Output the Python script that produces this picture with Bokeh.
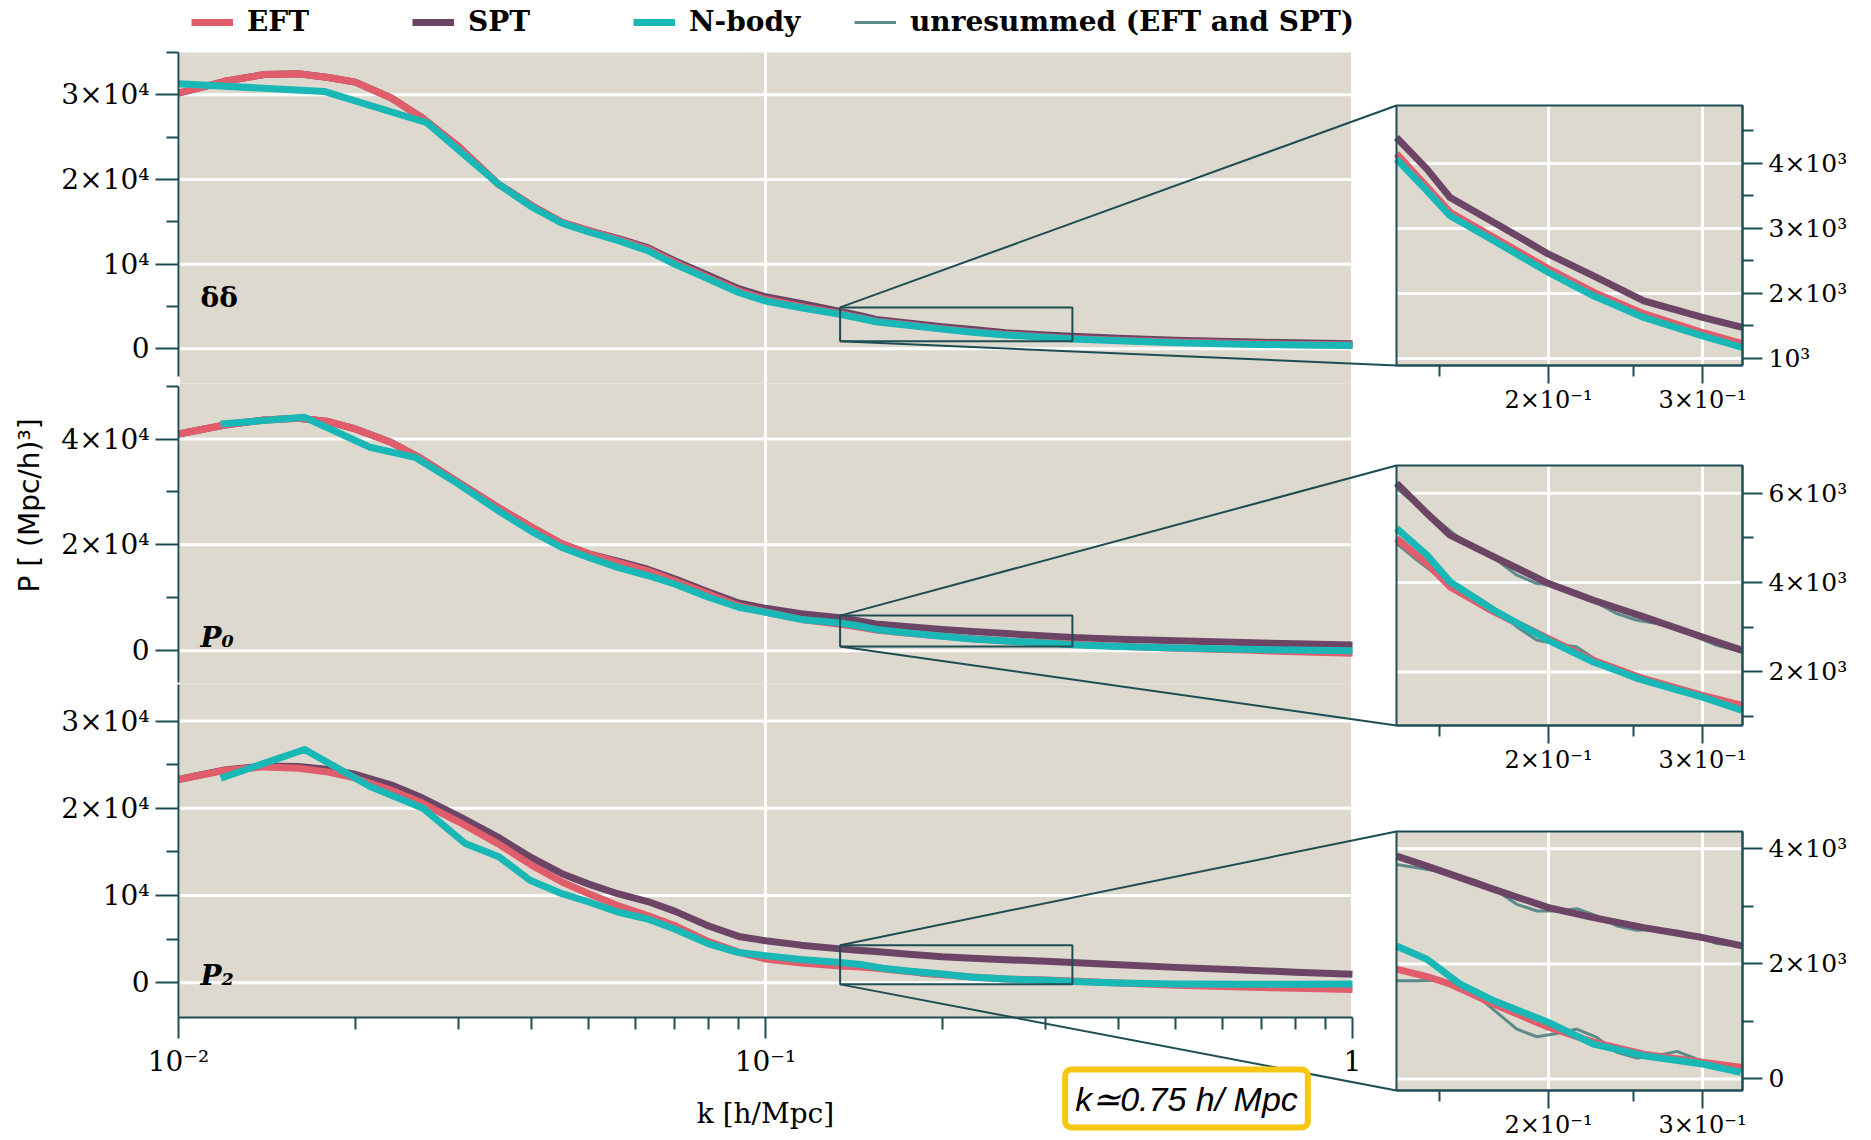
import math
from bokeh.plotting import figure
from bokeh.models import (Range1d, LogScale, LinearScale, FixedTicker, Label, Legend,
                          LegendItem, LinearAxis, LogAxis)
from bokeh.embed import file_html
from bokeh.resources import INLINE

W, H = 1871, 1140

# ---------------- data ----------------
K_TH = [0.010, 0.012, 0.014, 0.016, 0.018, 0.020, 0.023, 0.026, 0.030, 0.035,
        0.040, 0.045, 0.050, 0.056, 0.063, 0.070, 0.080, 0.090, 0.100, 0.115,
        0.134, 0.1452, 0.1543, 0.1732, 0.200, 0.2251, 0.257, 0.300, 0.3331,
        0.400, 0.500, 0.650, 0.800, 1.000]

# delta-delta panel
DD_EFT = [30200, 31600, 32400, 32500, 32050, 31500, 29650, 27300, 23900, 19500,
          16900, 14950, 13950, 12950, 11800, 10200, 8400, 6850, 5850, 5000,
          4150, 3640, 3250, 2860, 2380, 2020, 1690, 1400, 1230,
          1000, 800, 620, 520, 450]
DD_SPT = [30200, 31600, 32400, 32500, 32050, 31500, 29650, 27300, 23900, 19500,
          16900, 14950, 13950, 13050, 11950, 10400, 8650, 7100, 6150, 5350,
          4400, 3913, 3477, 3092, 2605, 2272, 1887, 1631, 1477,
          1250, 1020, 820, 700, 600]
DD_NB_K = [0.010, 0.0177, 0.0265, 0.035, 0.040, 0.045, 0.050, 0.056, 0.063, 0.070,
           0.080, 0.090, 0.100, 0.115, 0.134, 0.1452, 0.1543, 0.1732, 0.200, 0.2251,
           0.257, 0.300, 0.3331, 0.400, 0.500, 0.650, 0.800, 1.000]
DD_NB = [31300, 30400, 26700, 19500, 16750, 14850, 13800, 12800, 11600, 10000,
         8250, 6650, 5650, 4850, 4067, 3579, 3195, 2810, 2323, 1964,
         1631, 1349, 1169, 950, 720, 540, 450, 400]

# P0 panel
P0_EFT = [40950, 42650, 43600, 43950, 43300, 41900, 39400, 36200, 31800, 27100,
          23300, 20200, 18300, 16700, 15100, 13200, 10700, 8500, 7300, 5900,
          4987, 4426, 3903, 3342, 2744, 2258, 1847, 1473, 1249,
          850, 450, 100, -200, -500]
P0_SPT = [40950, 42650, 43600, 43950, 43300, 41900, 39400, 36200, 31800, 27100,
          23300, 20200, 18300, 16900, 15400, 13600, 11100, 9000, 8000, 7000,
          6221, 5548, 5062, 4576, 3978, 3604, 3230, 2781, 2482,
          2150, 1850, 1550, 1300, 1070]
P0_NB_K = [0.0118, 0.0164, 0.0212, 0.0253, 0.030, 0.035, 0.040, 0.045, 0.050, 0.056,
           0.063, 0.070, 0.080, 0.090, 0.100, 0.115, 0.134, 0.1452, 0.1543, 0.1732,
           0.200, 0.2251, 0.257, 0.300, 0.3331, 0.400, 0.500, 0.650, 0.800, 1.000]
P0_NB = [42850, 44100, 38450, 36550, 31500, 26500, 22500, 19500, 17600, 15750,
         14200, 12600, 10100, 8200, 7250, 5900, 5211, 4613, 4015, 3379,
         2707, 2220, 1809, 1436, 1136, 800, 500, 250, 100, 0]

# P2 panel
P2_EFT = [23300, 24350, 24750, 24600, 24150, 23450, 22100, 20600, 18450, 15950,
          13450, 11550, 10200, 8850, 7700, 6550, 4700, 3500, 2700, 2250,
          1908, 1780, 1650, 1300, 900, 640, 430, 290, 200,
          -50, -300, -500, -650, -800]
P2_SPT = [23300, 24400, 24850, 24800, 24450, 23900, 22700, 21200, 19100, 16700,
          14300, 12500, 11300, 10200, 9300, 8200, 6500, 5300, 4800, 4300,
          3873, 3699, 3560, 3295, 2977, 2803, 2630, 2457, 2312,
          2050, 1750, 1450, 1200, 950]
P2_NB_K = [0.0118, 0.0164, 0.0212, 0.0261, 0.0308, 0.0352, 0.0397, 0.045, 0.050, 0.056,
           0.063, 0.070, 0.080, 0.090, 0.100, 0.115, 0.134, 0.1452, 0.1585, 0.1732,
           0.200, 0.2251, 0.257, 0.300, 0.3318, 0.400, 0.500, 0.650, 0.800, 1.000]
P2_NB = [23450, 26750, 22500, 20000, 15950, 14400, 11750, 10200, 9250, 8100,
         7300, 6150, 4450, 3450, 3100, 2650, 2312, 2081, 1647, 1358,
         983, 607, 405, 260, 116, -50, -150, -200, -200, -150]

# unresummed (EFT and SPT), zoomed k range
K_UN = [0.1340, 0.1414, 0.1491, 0.1571, 0.1656, 0.1745, 0.1840, 0.1940, 0.2044,
        0.2155, 0.2271, 0.2394, 0.2524, 0.2660, 0.2804, 0.2955, 0.3115, 0.3327]
P0_UN_SPT = [6108, 5735, 5398, 5039, 4800, 4501, 4164, 3978, 3940,
             3791, 3544, 3305, 3155, 3080, 2968, 2781, 2594, 2445]
P0_UN_EFT = [4875, 4501, 4164, 3903, 3679, 3379, 3006, 2707, 2632,
             2557, 2258, 1996, 1809, 1735, 1645, 1473, 1323, 1211]
P2_UN_SPT = [3728, 3671, 3613, 3543, 3439, 3266, 3035, 2919, 2919,
             2960, 2832, 2659, 2584, 2601, 2572, 2486, 2353, 2312]
P2_UN_EFT = [1705, 1705, 1717, 1647, 1445, 1156, 867, 734, 792,
             867, 723, 462, 364, 405, 480, 347, 249, 173]

# tick values and labels
MAIN_XTICKS = [0.01, 0.1, 1.0]
MAIN_XLABELS = ["10⁻²", "10⁻¹", "1"]
MAIN_XMINOR = [0.02, 0.03, 0.04, 0.05, 0.06, 0.07, 0.08, 0.09,
               0.2, 0.3, 0.4, 0.5, 0.6, 0.7, 0.8, 0.9]
DD_YTICKS = [0, 10000, 20000, 30000]
DD_YLABELS = ["0", "10⁴", "2×10⁴", "3×10⁴"]
DD_YMINOR = [5000, 15000, 25000, 35000]
P0_YTICKS = [0, 20000, 40000]
P0_YLABELS = ["0", "2×10⁴", "4×10⁴"]
P0_YMINOR = [10000, 30000, 50000]
P2_YTICKS = [0, 10000, 20000, 30000]
P2_YLABELS = ["0", "10⁴", "2×10⁴", "3×10⁴"]
P2_YMINOR = [5000, 15000, 25000]

IN_XTICKS = [0.2, 0.3]
IN_XLABELS = ["2×10⁻¹", "3×10⁻¹"]
IN_XMINOR = [0.15, 0.25]
IN1_YTICKS = [1000, 2000, 3000, 4000]
IN1_YLABELS = ["10³", "2×10³", "3×10³", "4×10³"]
IN1_YMINOR = [1500, 2500, 3500, 4500]
IN2_YTICKS = [2000, 4000, 6000]
IN2_YLABELS = ["2×10³", "4×10³", "6×10³"]
IN2_YMINOR = [1000, 3000, 5000]
IN3_YTICKS = [0, 2000, 4000]
IN3_YLABELS = ["0", "2×10³", "4×10³"]
IN3_YMINOR = [1000, 3000]

LEGEND_LABELS = ["EFT", "SPT", "N-body", "unresummed (EFT and SPT)"]

# ---------------- styling / layout ----------------
BEIGE = "#ddd9ce"
AX = "#1e4d54"
C_EFT = "#e15d6c"
C_SPT = "#6c4566"
C_NB = "#1ab7b7"
C_UN = "#5d8b8b"
LW = 7
SERIF = "DejaVu Serif"

MAIN_L, MAIN_R = 178, 1352
K_MIN, K_MAX = 0.01, 1.0
INSET_L, INSET_R = 1396, 1742
INSET_K = (0.134, 0.3333)

PANELS = [
    dict(eft=DD_EFT, spt=DD_SPT, nbk=DD_NB_K, nb=DD_NB, un_eft=None, un_spt=None,
         top=52, bottom=383, yr=(-4100, 35000), ybounds=(-3300, 35000),
         yt=DD_YTICKS, yl=DD_YLABELS, ym=DD_YMINOR, tag="δδ", tag_style="bold", tag_y=6000,
         in_top=105, in_bottom=365, in_yr=(892, 4892),
         in_yt=IN1_YTICKS, in_yl=IN1_YLABELS, in_ym=IN1_YMINOR),
    dict(eft=P0_EFT, spt=P0_SPT, nbk=P0_NB_K, nb=P0_NB, un_eft=P0_UN_EFT, un_spt=P0_UN_SPT,
         top=383, bottom=684, yr=(-6400, 50500), ybounds=(-6000, 50000),
         yt=P0_YTICKS, yl=P0_YLABELS, ym=P0_YMINOR, tag="P₀", tag_style="bold italic", tag_y=2400,
         in_top=465, in_bottom=725, in_yr=(800, 6620),
         in_yt=IN2_YTICKS, in_yl=IN2_YLABELS, in_ym=IN2_YMINOR),
    dict(eft=P2_EFT, spt=P2_SPT, nbk=P2_NB_K, nb=P2_NB, un_eft=P2_UN_EFT, un_spt=P2_UN_SPT,
         top=684, bottom=1017, yr=(-4000, 34200), ybounds=(-4000, 34200),
         yt=P2_YTICKS, yl=P2_YLABELS, ym=P2_YMINOR, tag="P₂", tag_style="bold italic", tag_y=800,
         in_top=831, in_bottom=1090, in_yr=(-200, 4300),
         in_yt=IN3_YTICKS, in_yl=IN3_YLABELS, in_ym=IN3_YMINOR),
]


def log_range(v0, v1, p0, p1):
    """Range over the full page width so that v0 sits at pixel p0 and v1 at p1."""
    dec = (p1 - p0) / (math.log10(v1) - math.log10(v0))
    return Range1d(10 ** (math.log10(v0) - p0 / dec), 10 ** (math.log10(v1) + (W - p1) / dec))


def lin_range(lo, hi, ptop, pbot):
    """Range over the full page height so that lo sits at pixel pbot and hi at ptop."""
    upp = (hi - lo) / (pbot - ptop)
    return Range1d(lo - (H - pbot) * upp, hi + ptop * upp)


def px_main_x(k):
    return MAIN_L + (math.log10(k) - math.log10(K_MIN)) / (math.log10(K_MAX) - math.log10(K_MIN)) * (MAIN_R - MAIN_L)


def px_y(v, top, bottom, lo, hi):
    return bottom - (v - lo) / (hi - lo) * (bottom - top)


xr_extra = {"main": log_range(K_MIN, K_MAX, MAIN_L, MAIN_R),
            "inset": log_range(INSET_K[0], INSET_K[1], INSET_L, INSET_R)}
yr_extra = {}
for i, cfg in enumerate(PANELS):
    yr_extra[f"m{i}"] = lin_range(cfg["yr"][0], cfg["yr"][1], cfg["top"], cfg["bottom"])
    yr_extra[f"i{i}"] = lin_range(cfg["in_yr"][0], cfg["in_yr"][1], cfg["in_top"], cfg["in_bottom"])

p = figure(width=W, height=H, x_range=Range1d(0, W), y_range=Range1d(H, 0),
           x_axis_type=None, y_axis_type=None, toolbar_location=None,
           output_backend="svg", min_border=0, title=None,
           background_fill_color="white", border_fill_color="white",
           outline_line_color=None)
p.extra_x_ranges = xr_extra
p.extra_x_scales = {"main": LogScale(), "inset": LogScale()}
p.extra_y_ranges = yr_extra
p.extra_y_scales = {k: LinearScale() for k in yr_extra}


def style_axis(ax, size, tick_out, minor_out, standoff):
    ax.axis_line_color = AX
    ax.axis_line_width = 2
    ax.major_tick_line_color = AX
    ax.major_tick_line_width = 2
    ax.minor_tick_line_color = AX
    ax.minor_tick_line_width = 2
    ax.major_tick_in = 0
    ax.major_tick_out = tick_out
    ax.minor_tick_in = 0
    ax.minor_tick_out = minor_out
    ax.major_label_text_font = SERIF
    ax.major_label_text_font_size = f"{size}px"
    ax.major_label_text_color = "black"
    ax.major_label_standoff = standoff


def in_range(ks, vs, lo, hi):
    pairs = [(k, v) for k, v in zip(ks, vs) if lo <= k <= hi]
    return [a for a, _ in pairs], [b for _, b in pairs]


def draw_series(cfg, xn, yn, klo, khi):
    kw = dict(x_range_name=xn, y_range_name=yn)
    out = {}
    if cfg["un_spt"] is not None:
        for name, arr in (("un_spt", cfg["un_spt"]), ("un_eft", cfg["un_eft"])):
            xs, ys = in_range(K_UN, arr, klo, khi)
            out[name] = p.line(xs, ys, line_color=C_UN, line_width=3, **kw)
    for name, ks, vs, col in (("spt", K_TH, cfg["spt"], C_SPT), ("eft", K_TH, cfg["eft"], C_EFT),
                              ("nb", cfg["nbk"], cfg["nb"], C_NB)):
        xs, ys = in_range(ks, vs, klo, khi)
        out[name] = p.line(xs, ys, line_color=col, line_width=LW, line_join="round", **kw)
    return out


main_renderers = []
for i, cfg in enumerate(PANELS):
    lo, hi = cfg["yr"]
    kw = dict(x_range_name="main", y_range_name=f"m{i}")
    # panel background and grid
    p.quad(left=[K_MIN], right=[K_MAX], bottom=[lo], top=[hi], fill_color=BEIGE,
           line_color=None, **kw)
    p.segment(x0=[K_MIN] * len(cfg["yt"]), x1=[K_MAX] * len(cfg["yt"]), y0=cfg["yt"],
              y1=cfg["yt"], line_color="white", line_width=3, **kw)
    p.segment(x0=MAIN_XTICKS, x1=MAIN_XTICKS, y0=[lo] * 3, y1=[hi] * 3,
              line_color="white", line_width=3, **kw)
    main_renderers.append(draw_series(cfg, "main", f"m{i}", K_MIN, K_MAX))
    ilo, ihi = cfg["in_yr"]
    p.quad(left=[INSET_K[0]], right=[INSET_K[1]], bottom=[ilo], top=[ihi],
           fill_color=None, line_color=AX, line_width=2, **kw)
    p.add_layout(Label(x=0.0109, y=cfg["tag_y"], text=cfg["tag"], text_font=SERIF,
                       text_font_style=cfg["tag_style"], text_font_size="28px",
                       text_baseline="middle", text_color="black", **kw))
    ya = LinearAxis(x_range_name="main", y_range_name=f"m{i}", fixed_location=K_MIN,
                    ticker=FixedTicker(ticks=cfg["yt"], minor_ticks=cfg["ym"]),
                    bounds=cfg["ybounds"])
    ya.major_label_overrides = dict(zip(cfg["yt"], cfg["yl"]))
    style_axis(ya, 28, 23, 12, 6)
    p.add_layout(ya, "left")

    # inset
    ikw = dict(x_range_name="inset", y_range_name=f"i{i}")
    p.quad(left=[INSET_K[0]], right=[INSET_K[1]], bottom=[ilo], top=[ihi],
           fill_color=BEIGE, line_color=None, **ikw)
    p.segment(x0=[INSET_K[0]] * len(cfg["in_yt"]), x1=[INSET_K[1]] * len(cfg["in_yt"]),
              y0=cfg["in_yt"], y1=cfg["in_yt"], line_color="white", line_width=3, **ikw)
    p.segment(x0=IN_XTICKS, x1=IN_XTICKS, y0=[ilo] * 2, y1=[ihi] * 2,
              line_color="white", line_width=3, **ikw)
    draw_series(cfg, "inset", f"i{i}", INSET_K[0], INSET_K[1])
    p.quad(left=[INSET_K[0]], right=[INSET_K[1]], bottom=[ilo], top=[ihi],
           fill_color=None, line_color=AX, line_width=2, **ikw)
    iya = LinearAxis(x_range_name="inset", y_range_name=f"i{i}", fixed_location=INSET_K[1],
                     ticker=FixedTicker(ticks=cfg["in_yt"], minor_ticks=cfg["in_ym"]),
                     bounds=cfg["in_yr"])
    iya.major_label_overrides = dict(zip(cfg["in_yt"], cfg["in_yl"]))
    style_axis(iya, 25, 20, 11, 6)
    p.add_layout(iya, "right")
    ixa = LogAxis(x_range_name="inset", y_range_name=f"i{i}", fixed_location=ilo,
                  ticker=FixedTicker(ticks=IN_XTICKS, minor_ticks=IN_XMINOR),
                  bounds=INSET_K)
    ixa.major_label_overrides = dict(zip(IN_XTICKS, IN_XLABELS))
    style_axis(ixa, 24, 18, 11, 2)
    p.add_layout(ixa, "below")

# main x axis under the last panel
last = PANELS[-1]
xa = LogAxis(x_range_name="main", y_range_name="m2", fixed_location=last["yr"][0],
             ticker=FixedTicker(ticks=MAIN_XTICKS, minor_ticks=MAIN_XMINOR),
             bounds=(K_MIN, K_MAX))
xa.major_label_overrides = dict(zip(MAIN_XTICKS, MAIN_XLABELS))
style_axis(xa, 28, 21, 12, 6)
xa.axis_label = "k [h/Mpc]"
xa.axis_label_text_font = SERIF
xa.axis_label_text_font_style = "normal"
xa.axis_label_text_font_size = "28px"
xa.axis_label_text_color = "black"
xa.axis_label_standoff = 16
p.add_layout(xa, "below")

# connectors from zoom rectangles to insets (page pixel coordinates)
x0s, y0s, x1s, y1s = [], [], [], []
for cfg in PANELS:
    xr = px_main_x(INSET_K[0])
    ilo, ihi = cfg["in_yr"]
    for val, tgt in ((ihi, cfg["in_top"]), (ilo, cfg["in_bottom"])):
        x0s.append(xr)
        y0s.append(px_y(val, cfg["top"], cfg["bottom"], *cfg["yr"]))
        x1s.append(INSET_L)
        y1s.append(tgt)
p.segment(x0=x0s, y0=y0s, x1=x1s, y1=y1s, line_color=AX, line_width=2)

# legend, built from the drawn series
leg_r = [main_renderers[0]["eft"], main_renderers[0]["spt"], main_renderers[0]["nb"],
         main_renderers[1]["un_spt"]]
legend = Legend(items=[LegendItem(label=l, renderers=[r]) for l, r in zip(LEGEND_LABELS, leg_r)],
                orientation="horizontal", location=(191, H - 38),
                glyph_width=42, glyph_height=20, label_standoff=14, label_width=150,
                spacing=15, padding=0, margin=0, border_line_color=None,
                background_fill_alpha=0, label_text_font=SERIF,
                label_text_font_style="bold", label_text_font_size="28px",
                label_text_color="black")
p.add_layout(legend)

p.add_layout(Label(x=29, y=505, text="P [ (Mpc/h)³]", angle=math.pi / 2,
                   text_align="center", text_baseline="middle",
                   text_font="DejaVu Sans", text_font_size="28px", text_color="black"))

p.add_layout(Label(x=1186, y=1098, text="k≃0.75 h/ Mpc", text_align="center",
                   text_baseline="middle", text_font="Liberation Sans",
                   text_font_style="italic", text_font_size="34px", text_color="black",
                   background_fill_color="white", border_line_color="#f5c711",
                   border_line_width=6, padding=10, border_radius=6))

open("out.html", "w").write(file_html(p, INLINE))
